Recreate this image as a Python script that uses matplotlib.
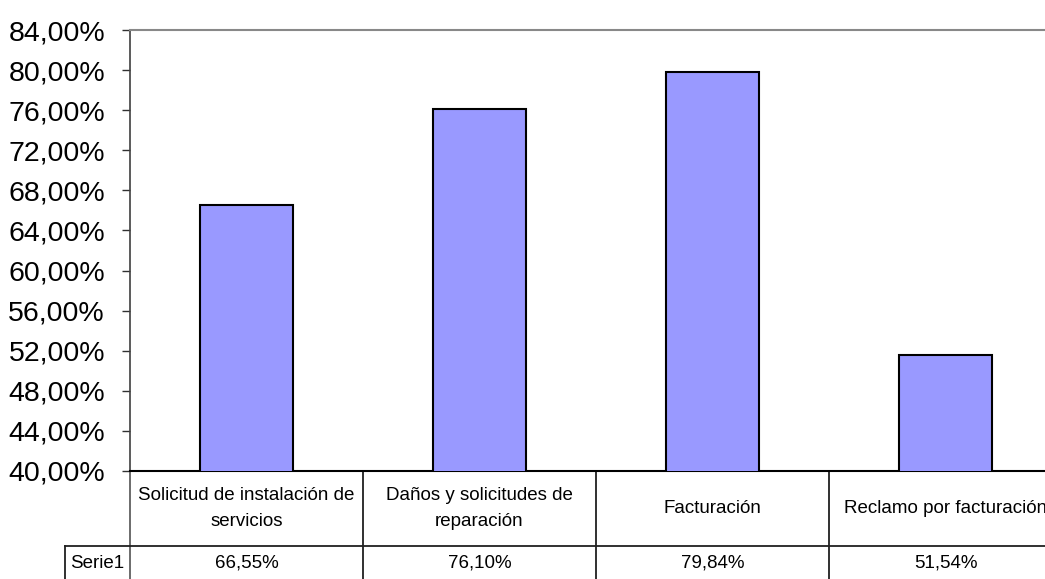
import numpy as np
import matplotlib.pyplot as plt
from matplotlib.transforms import blended_transform_factory

plt.rcParams['font.family'] = ['Liberation Sans', 'DejaVu Sans']

# Data
categories = ['Solicitud de instalación de\nservicios',
              'Daños y solicitudes de\nreparación',
              'Facturación',
              'Reclamo por facturación']
values = [66.55, 76.10, 79.84, 51.54]
series_name = 'Serie1'
y_ticks = np.arange(40, 85, 4)


def pct(v):
    return f"{v:.2f}".replace('.', ',') + '%'


fig = plt.figure(figsize=(10.45, 5.79), dpi=100)
W, H = 1045, 579
# plot area runs a little past the right edge of the figure
ax = fig.add_axes([130 / W, (H - 471) / H, (1062 - 130) / W, (471 - 30) / H])

x = np.arange(len(categories))
ax.bar(x, values, width=0.4, color='#9999FF', edgecolor='black', linewidth=1.5,
       zorder=3)

ax.set_xlim(-0.5, len(categories) - 0.5)
ax.set_ylim(40, 84)
ax.set_yticks(y_ticks)
ax.set_yticklabels([pct(t) for t in y_ticks], fontsize=20.5)
ax.tick_params(axis='y', direction='out', length=6, width=1, pad=12,
               color='#303030')
ax.set_xticks([])

ax.spines['top'].set_color('#888888')
ax.spines['top'].set_linewidth(1.5)
ax.spines['left'].set_color('#404040')
ax.spines['left'].set_linewidth(1.2)
ax.spines['bottom'].set_color('black')
ax.spines['bottom'].set_linewidth(1.5)
ax.spines['right'].set_visible(False)

# Data table under the axis
trans = blended_transform_factory(ax.transData, ax.transAxes)
ax_h = 471 - 30
row1 = -(546 - 471) / ax_h
row2 = -(585 - 471) / ax_h
x_label = -0.5 - 65 / 233

line_kw = dict(transform=trans, clip_on=False, color='#202020', lw=1.3)
ax.plot([-0.5, -0.5], [0, row2], **{**line_kw, 'color': '#606060'})
for b in np.arange(0.5, len(categories) - 0.5):
    ax.plot([b, b], [0, row2], **line_kw)
ax.plot([x_label, len(categories) - 0.5], [row1, row1], **line_kw)
ax.plot([x_label, x_label], [row1, row2], **line_kw)

for xi, cat, v in zip(x, categories, values):
    ax.text(xi, row1 / 2, cat, transform=trans, ha='center', va='center',
            fontsize=13.5, linespacing=1.7, clip_on=False)
    ax.text(xi, (row1 + row2) / 2 + 0.005, pct(v), transform=trans,
            ha='center', va='center', fontsize=13.5, clip_on=False)

ax.text(x_label + 0.02, (row1 + row2) / 2 + 0.005, series_name, transform=trans,
        ha='left', va='center', fontsize=13.5, clip_on=False)

fig.savefig('out.png', dpi=100)
